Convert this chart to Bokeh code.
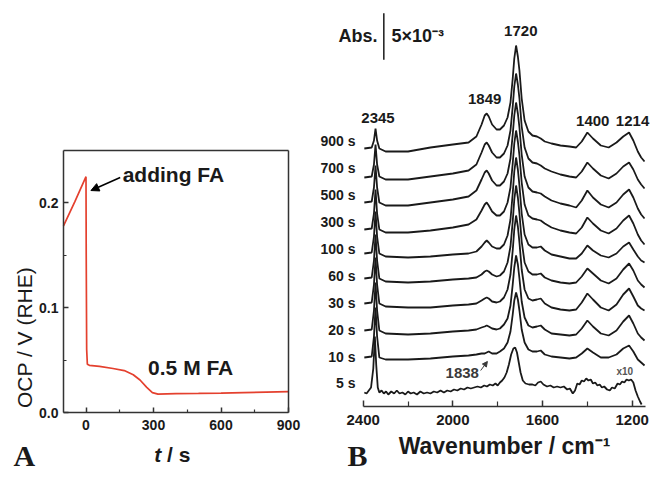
from bokeh.plotting import figure
from bokeh.layouts import row
from bokeh.models import (Range1d, FixedTicker, NumeralTickFormatter, Label,
                          Arrow, NormalHead, ColumnDataSource, LabelSet, LinearAxis)
from bokeh.core.properties import value
from bokeh.embed import file_html
from bokeh.resources import INLINE

# ---------------- Panel A data: open-circuit potential vs time ----------------
T_A = [-100, -50, 0, 1, 3, 6, 15, 60, 120, 170, 210, 240, 270, 295, 320, 400, 500, 600, 700, 800, 900]
OCP_A = [0.178, 0.201, 0.225, 0.150, 0.060, 0.046, 0.045, 0.044, 0.042, 0.040, 0.036, 0.031,
         0.024, 0.019, 0.0175, 0.018, 0.0182, 0.0185, 0.019, 0.0195, 0.020]
A_XLIM = (-100, 900)
A_YLIM = (0.0, 0.25)
A_XTICKS = [0, 300, 600, 900]
A_XMINOR = [150, 450, 750]
A_YTICKS = [0.0, 0.1, 0.2]
A_YMINOR = [0.05, 0.15]

# ---------------- Panel B data: stacked IR spectra ----------------
# y values in units where the 5x10^-3 Abs scale bar is 46.6 units long
Y_UNIT_ABS = 5e-3 / 46.6
WN = [2395, 2362, 2352, 2345, 2338, 2328, 2300, 2200, 2100, 2000,
      1930, 1895, 1872, 1858, 1849, 1840, 1825, 1805, 1790, 1772,
      1756, 1743, 1733, 1726, 1718, 1710, 1703, 1693, 1680, 1663,
      1645, 1625, 1608, 1590, 1560, 1520, 1480, 1450, 1425, 1400,
      1375, 1340, 1305, 1270, 1240, 1214, 1195, 1175, 1160, 1145]
S900 = [0, 1, 8, 20, 8, 0, -3, -3, 1, 4, 6, 12, 24, 33, 35, 32, 24, 19, 19, 23,
        31, 46, 70, 90, 103, 92, 78, 50, 28, 17, 13, 12, 10, 7, 5, 3, 2, 1, 7, 16,
        10, 3, 1, 6, 12, 16, 8, -3, -9, -13]
S700 = [0, 1, 13, 33, 13, 1, -2, -2, 1, 4, 7, 13, 25, 33, 35, 32, 25, 20, 20, 24,
        32, 47, 71, 91, 104, 93, 79, 51, 30, 19, 15, 14, 12, 9, 6, 3, 1, 0, 6, 15,
        9, 2, -1, 4, 11, 15, 8, -2, -7, -11]
S500 = [0, 1, 15, 37, 15, 0, -3, -3, 0, 3, 6, 12, 23, 30, 32, 29, 22, 17, 17, 21,
        29, 44, 68, 87, 100, 89, 75, 48, 26, 15, 11, 10, 9, 6, 2, -1, -3, -5, 2, 12,
        5, -2, -5, 0, 8, 13, 5, -6, -12, -16]
S300 = [0, 1, 16, 40, 16, 0, -3, -3, -1, 2, 5, 10, 19, 25, 27, 24, 18, 14, 14, 18,
        27, 42, 66, 86, 99, 88, 74, 47, 25, 14, 11, 10, 9, 6, 2, -1, -3, -4, 2, 12,
        6, -1, -4, 1, 9, 14, 6, -5, -11, -15]
S100 = [0, 1, 17, 42, 17, 0, -3, -4, -3, -1, 0, 2, 7, 11, 13, 11, 7, 5, 5, 9,
        18, 34, 60, 82, 96, 84, 68, 40, 19, 9, 6, 6, 7, 3, -1, -3, -5, -5, 0, 8,
        3, -2, -4, 0, 7, 11, 4, -3, -7, -9]
S60 = [0, 1, 18, 44, 18, 0, -3, -4, -3, -1, 0, 1, 4, 7, 8, 7, 4, 2, 3, 7,
       16, 32, 57, 79, 93, 81, 65, 37, 16, 7, 4, 4, 5, 1, -2, -4, -5, -4, 2, 10,
       5, -2, -5, 0, 9, 15, 8, -2, -6, -9]
S30 = [0, 1, 19, 46, 19, 0, -3, -4, -4, -2, -1, 0, 3, 5, 6, 5, 2, 1, 2, 6,
       14, 29, 53, 74, 88, 77, 61, 34, 14, 5, 3, 4, 5, 0, -4, -6, -7, -6, 1, 10,
       4, -4, -7, -1, 9, 15, 7, -2, -5, -7]
S20 = [0, 1, 20, 48, 20, 0, -3, -4, -3, -1, 0, 1, 3, 4, 5, 4, 2, 1, 2, 6,
       12, 25, 46, 63, 75, 66, 52, 29, 13, 5, 3, 4, 5, 1, -3, -4, -5, -4, 2, 10,
       4, -3, -5, 0, 9, 15, 7, -3, -7, -10]
S10 = [0, 1, 21, 50, 21, 0, -2, -2, -1, 1, 2, 3, 4, 4, 5, 6, 4, 4, 6, 9,
       15, 26, 43, 57, 65, 58, 47, 28, 15, 8, 6, 6, 7, 3, 1, 0, -1, 0, 4, 9,
       5, 0, 0, 3, 9, 12, 6, -2, -5, -8]
# 5 s spectrum (shown x10, noisy)
W5 = [2395, 2385, 2375, 2365, 2355, 2348, 2342, 2335, 2328, 2318,
      2308, 2298, 2288, 2275, 2262, 2250, 2238, 2225, 2212, 2200,
      2188, 2175, 2160, 2145, 2130, 2115, 2100, 2085, 2070, 2055,
      2040, 2025, 2010, 1995, 1980, 1965, 1950, 1935, 1920, 1905,
      1890, 1875, 1860, 1848, 1835, 1822, 1810, 1800, 1790, 1780,
      1770, 1760, 1750, 1740, 1730, 1722, 1714, 1706, 1698, 1688,
      1676, 1660, 1645, 1632, 1620, 1608, 1596, 1580, 1565, 1550,
      1535, 1520, 1505, 1490, 1478, 1465, 1455, 1445, 1435, 1425,
      1415, 1405, 1395, 1385, 1375, 1365, 1355, 1345, 1335, 1325,
      1312, 1300, 1290, 1278, 1265, 1255, 1245, 1235, 1225, 1215,
      1205, 1195, 1185, 1175, 1165, 1158]
S5 = [0, -1, 2, 5, 24, 56, 28, 5, 0, 2,
      -1, 1, -2, 1, -1, 2, -1, 0, -2, 1,
      -1, 0, -2, 1, -1, 0, -1, 1, 0, 2,
      0, 2, 1, 3, 2, 4, 3, 5, 4, 5,
      6, 5, 7, 6, 8, 7, 9, 7, 10, 12,
      15, 20, 28, 38, 44, 45, 40, 30, 20, 12,
      9, 8, 8, 7, 10, 11, 8, 6, 7, 5,
      6, 5, 6, 3, 4, -1, 2, 9, 8, 12,
      11, 14, 12, 13, 9, 10, 7, 8, 5, 6,
      3, 2, 5, 4, 9, 8, 11, 10, 13, 12,
      13, 10, 2, -4, -9, -12]

TIMES = ["900 s", "700 s", "500 s", "300 s", "100 s", "60 s", "30 s", "20 s", "10 s", "5 s"]
OFFSETS = [258, 229, 204, 177, 153, 128, 103, 76, 49, 14]
LABEL_Y = [266, 239, 212, 185, 158, 131, 104, 77, 50, 24]
SPECTRA = [(WN, S900), (WN, S700), (WN, S500), (WN, S300), (WN, S100),
           (WN, S60), (WN, S30), (WN, S20), (WN, S10), (W5, S5)]
PEAKS = ["2345", "1849", "1720", "1400", "1214"]
PEAK_X = [2334, 1858, 1697, 1376, 1124]
PEAK_Y = [289, 308, 376, 286, 286]
PEAK_ALIGN = ["center", "center", "center", "center", "right"]
B_XLIM = (2400, 1140)
B_XTICKS = [2400, 2000, 1600, 1200]
B_XMINOR = [2200, 1800, 1400]

FONT = "Liberation Sans"
SERIF = "Liberation Serif"
AXC = "#333333"
TXT = "#1a1a1a"


def style_axis(ax, size="14px", in_major=5, in_minor=3):
    ax.axis_line_color = AXC
    ax.axis_line_width = 1.5
    ax.major_tick_line_color = AXC
    ax.minor_tick_line_color = AXC
    ax.major_tick_line_width = 1.5
    ax.minor_tick_line_width = 1.2
    ax.major_tick_in = in_major
    ax.major_tick_out = 0
    ax.minor_tick_in = in_minor
    ax.minor_tick_out = 0
    ax.major_label_text_font = FONT
    ax.major_label_text_font_style = "bold"
    ax.major_label_text_font_size = size
    ax.major_label_text_color = TXT


def plain_axis(ax):
    ax.axis_line_color = AXC
    ax.axis_line_width = 1.5
    ax.major_tick_line_color = None
    ax.minor_tick_line_color = None
    ax.major_label_text_color = None


def lab(p, x, y, text, size, style="bold", align="left", font=FONT, color=TXT, angle=0):
    p.add_layout(Label(x=x, y=y, text=text, text_font=font, text_font_size=size,
                       text_font_style=style, text_align=align, text_baseline="middle",
                       text_color=color, angle=angle))


# ---------------- Panel A ----------------
# whole figure is the frame; the panel box is drawn by axes with fixed locations
AX_PX = 0.225      # px per second
AY_PX = 1048.0     # px per volt
pA = figure(width=318, height=475, title=None,
            x_range=Range1d(A_XLIM[0] - 63 / AX_PX, A_XLIM[1] + 30 / AX_PX),
            y_range=Range1d(A_YLIM[0] - 63 / AY_PX, A_YLIM[1] + 150 / AY_PX),
            x_axis_type=None, y_axis_type=None,
            output_backend="svg", toolbar_location=None, min_border=0)
pA.grid.visible = False
pA.outline_line_color = None
pA.background_fill_color = "white"
pA.border_fill_color = "white"

xa = LinearAxis(ticker=FixedTicker(ticks=A_XTICKS, minor_ticks=A_XMINOR),
                fixed_location=A_YLIM[0], bounds=A_XLIM, major_label_standoff=7)
style_axis(xa)
pA.add_layout(xa, "below")
ya = LinearAxis(ticker=FixedTicker(ticks=A_YTICKS, minor_ticks=A_YMINOR),
                formatter=NumeralTickFormatter(format="0.0"),
                fixed_location=A_XLIM[0], bounds=A_YLIM, major_label_standoff=5)
style_axis(ya)
pA.add_layout(ya, "left")
ta = LinearAxis(ticker=FixedTicker(ticks=[]), fixed_location=A_YLIM[1], bounds=A_XLIM)
plain_axis(ta)
pA.add_layout(ta, "above")
ra = LinearAxis(ticker=FixedTicker(ticks=[]), fixed_location=A_XLIM[1], bounds=A_YLIM)
plain_axis(ra)
pA.add_layout(ra, "right")

pA.line(T_A, OCP_A, line_color="#e4402e", line_width=1.7)

lab(pA, 163, 0.227, "adding FA", "21px")
pA.add_layout(Arrow(end=NormalHead(size=8, fill_color="black", line_color="black"),
                    x_start=152, y_start=0.2242, x_end=22, y_end=0.2118,
                    line_color="black", line_width=1.5))
lab(pA, 276, 0.043, "0.5 M FA", "21px")
lab(pA, -273, 0.0716, "OCP / V (RHE)", "21px", style="normal", align="center", angle=1.5708)
lab(pA, 334, -0.040, "t", "21px", style="bold italic", align="right")
lab(pA, 334, -0.040, "\u00a0/ s", "21px", style="bold", align="left")
lab(pA, -322, -0.041, "A", "30px", style="bold", font=SERIF)

# ---------------- Panel B ----------------
BX_PX = 0.22417    # px per cm-1
pB = figure(width=334, height=475, title=None,
            x_range=Range1d(B_XLIM[0] + 44.7 / BX_PX, B_XTICKS[-1] - 20.3 / BX_PX),
            y_range=Range1d(-69, 406),
            x_axis_type=None, y_axis_type=None,
            output_backend="svg", toolbar_location=None, min_border=0)
pB.grid.visible = False
pB.outline_line_color = None
pB.background_fill_color = "white"
pB.border_fill_color = "white"

xb = LinearAxis(ticker=FixedTicker(ticks=B_XTICKS, minor_ticks=B_XMINOR),
                fixed_location=0, bounds=(B_XLIM[1], B_XLIM[0]), major_label_standoff=8)
style_axis(xb, size="15px", in_major=6, in_minor=5)
xb.axis_label = "Wavenumber / cm\u207b\u00b9"
xb.axis_label_text_font = FONT
xb.axis_label_text_font_style = "bold"
xb.axis_label_text_font_size = "23px"
xb.axis_label_text_color = TXT
xb.axis_label_standoff = 5
pB.add_layout(xb, "below")

for (w, s), off in zip(SPECTRA, OFFSETS):
    pB.line(w, [v + off for v in s], line_color=TXT, line_width=1.8)

src = ColumnDataSource(dict(x=[2434] * len(TIMES), y=LABEL_Y, t=TIMES))
pB.add_layout(LabelSet(x="x", y="y", text="t", source=src, text_font=value(FONT),
                       text_font_size=value("14px"), text_font_style="bold", text_align="right",
                       text_baseline="middle", text_color=TXT))
for t, x, y, al in zip(PEAKS, PEAK_X, PEAK_Y, PEAK_ALIGN):
    lab(pB, x, y, t, "15px", align=al)

# scale bar
bar_len = 5e-3 / Y_UNIT_ABS
pB.line([2308, 2308], [346.7, 346.7 + bar_len], line_color=TXT, line_width=1.5)
lab(pB, 2336, 371, "Abs.", "18px", align="right")
lab(pB, 2274, 371, "5\u00d710\u207b\u00b3", "18px", align="left")

lab(pB, 1958, 34, "1838", "15px", align="center", color="#3a3a3a")
pB.add_layout(Arrow(end=NormalHead(size=5, fill_color="#3a3a3a", line_color="#3a3a3a"),
                    x_start=1876, y_start=36, x_end=1846, y_end=45,
                    line_color="#3a3a3a", line_width=1))
lab(pB, 1233, 35, "x10", "10px", align="center", color="#555555")
lab(pB, 2470, -49, "B", "30px", style="bold", font=SERIF)

layout = row(pA, pB)
open("out.html", "w").write(file_html(layout, INLINE))
